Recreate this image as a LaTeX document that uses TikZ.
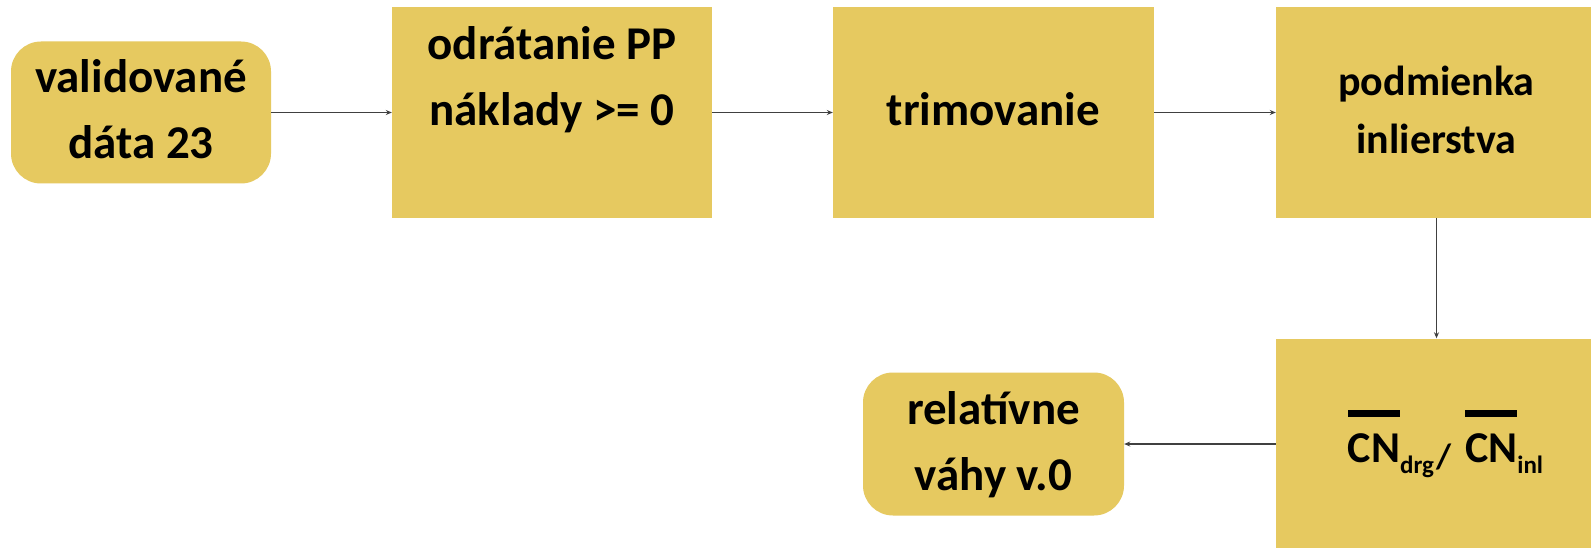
\documentclass[tikz,border=0pt]{standalone}
\usepackage{fontspec}
\setmainfont{Carlito}
\usetikzlibrary{arrows.meta}
\definecolor{gold}{RGB}{230,201,96}
\definecolor{arrowgray}{RGB}{64,64,64}
\newcommand\barred[1]{\vbox{\hrule height 6.5pt\kern 17pt\hbox{#1}}}
\newcommand\lowsub[1]{\raisebox{-11pt}{\fontsize{25}{25}\selectfont #1}}
\newcommand\lowslash{\raisebox{-6pt}{\fontsize{35}{35}\selectfont /}}
\begin{document}
\begin{tikzpicture}[x=1pt,y=-1pt,
  box/.style={fill=gold, draw=none, inner sep=0pt, align=center,
              font=\bfseries\fontsize{47}{66}\selectfont},
  rbox/.style={box, rounded corners=30pt},
  conn/.style={draw=arrowgray, line width=1.4pt, -{Stealth[length=6pt,width=5pt]}}]
\clip (0,0) rectangle (1591,548);
\fill[white] (0,0) rectangle (1591,548);
\node[rbox, minimum width=260pt, minimum height=142pt] (a) at (141,112.5)
  {\strut validované\\\strut dáta 23};
\node[box, minimum width=320pt, minimum height=211pt] (b) at (552,112.5)
  {\strut odrátanie PP\\\strut náklady >= 0\\\strut};
\node[box, minimum width=321pt, minimum height=211pt] (c) at (993.5,112.5)
  {\strut trimovanie};
\node[box, minimum width=321pt, minimum height=211pt,
      font=\bfseries\fontsize{42}{58}\selectfont] (d) at (1436.5,112.5)
  {\strut podmienka\\\strut inlierstva};
\node[box, minimum width=321pt, minimum height=211pt,
      font=\bfseries\fontsize{44}{52}\selectfont] (e) at (1436.5,444)
  {\hspace*{18pt}\barred{CN}\lowsub{drg}\hspace{2pt}\lowslash\hspace{14pt}\barred{CN}\lowsub{inl}};
\node[rbox, minimum width=261pt, minimum height=143pt] (f) at (993.5,444)
  {\strut relatívne\\\strut váhy v.0};
\draw[conn] (a) -- (b);
\draw[conn] (b) -- (c);
\draw[conn] (c) -- (d);
\draw[conn] (d) -- (e);
\draw[conn] (e) -- (f);
\end{tikzpicture}
\end{document}
